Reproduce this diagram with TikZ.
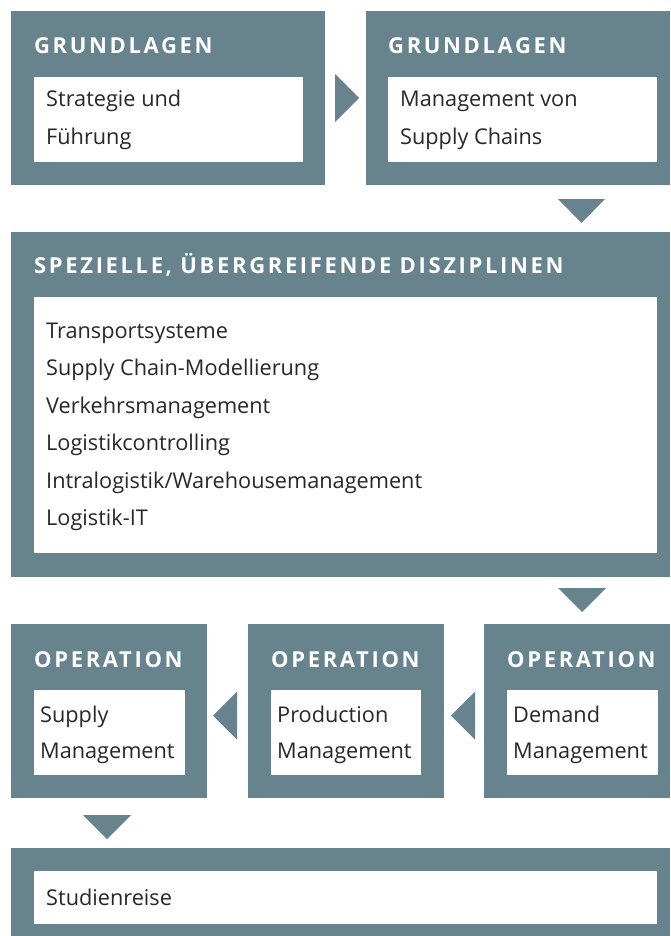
\documentclass[tikz,border=0pt]{standalone}
\usepackage{fontspec}
\setmainfont{Open Sans}
\newfontfamily\titlefont{Open Sans}[LetterSpace=12]
\usetikzlibrary{calc}
\definecolor{slate}{RGB}{102,131,142}
\definecolor{ink}{RGB}{40,40,40}
\tikzset{
  outer/.style={fill=slate, anchor=north west, inner sep=0pt, outer sep=0pt},
  inner/.style={fill=white, anchor=north west, inner sep=0pt, outer sep=0pt},
  ttl/.style={anchor=base west, inner sep=0pt, text=white, font=\titlefont\bfseries\fontsize{22}{26}\selectfont},
  txt/.style={anchor=base west, inner sep=0pt, text=ink, font=\fontsize{21.7}{26}\selectfont},
  tri/.style={fill=slate}
}
\begin{document}
\begin{tikzpicture}[x=1pt,y=-1pt]
\useasboundingbox (0,0) rectangle (670,936);
% top row
\node[outer, minimum width=314pt, minimum height=174pt] (b1) at (11,11) {};
\node[inner, minimum width=269pt, minimum height=85pt] (w1) at (34,77) {};
\node[ttl] (t1) at (34,54) {GRUNDLAGEN};
\node[txt] (s1a) at (46,107) {Strategie und};
\node[txt] (s1b) at (46,145) {Führung};

\node[outer, minimum width=304pt, minimum height=174pt] (b2) at (366,11) {};
\node[inner, minimum width=269pt, minimum height=85pt] (w2) at (388,77) {};
\node[ttl] (t2) at (388,54) {GRUNDLAGEN};
\node[txt] (s2a) at (400,107) {Management von};
\node[txt] (s2b) at (400,145) {Supply Chains};

% big box
\node[outer, minimum width=659pt, minimum height=345pt] (b3) at (11,232) {};
\node[inner, minimum width=623pt, minimum height=256pt] (w3) at (34,297) {};
\node[ttl] (t3) at (34,273) {SPEZIELLE, ÜBERGREIFENDE DISZIPLINEN};
\node[txt] (l1) at (46,338) {Transportsysteme};
\node[txt] (l2) at (46,375.5) {Supply Chain-Modellierung};
\node[txt] (l3) at (46,413) {Verkehrsmanagement};
\node[txt] (l4) at (46,450.5) {Logistikcontrolling};
\node[txt] (l5) at (46,488) {Intralogistik/Warehousemanagement};
\node[txt] (l6) at (46,525.5) {Logistik-IT};

% operation row
\node[outer, minimum width=196pt, minimum height=174pt] (o1) at (11,624) {};
\node[inner, minimum width=151pt, minimum height=85pt] (ow1) at (34,690) {};
\node[ttl] (ot1) at (34,667) {OPERATION};
\node[txt] (o1a) at (40,722) {Supply};
\node[txt] (o1b) at (40,758) {Management};

\node[outer, minimum width=196pt, minimum height=174pt] (o2) at (248,624) {};
\node[inner, minimum width=150pt, minimum height=85pt] (ow2) at (271,690) {};
\node[ttl] (ot2) at (271,667) {OPERATION};
\node[txt] (o2a) at (277,722) {Production};
\node[txt] (o2b) at (277,758) {Management};

\node[outer, minimum width=186pt, minimum height=174pt] (o3) at (484,624) {};
\node[inner, minimum width=151pt, minimum height=85pt] (ow3) at (507,690) {};
\node[ttl] (ot3) at (507,667) {OPERATION};
\node[txt] (o3a) at (513,722) {Demand};
\node[txt] (o3b) at (513,758) {Management};

% bottom box
\node[outer, minimum width=659pt, minimum height=88pt] (b4) at (11,848) {};
\node[inner, minimum width=623pt, minimum height=53pt] (w4) at (34,871) {};
\node[txt] (st) at (46,905) {Studienreise};

% triangle connectors
\fill[tri] ($(b1.east)+(10,-24)$) -- ($(b2.west)+(-7,0)$) -- ($(b1.east)+(10,24)$) -- cycle;
\fill[tri] ($(b2.south west)+(192,14)$) -- ($(b2.south west)+(239,14)$) -- ($(b3.north east)+(-88.5,-9)$) -- cycle;
\fill[tri] ($(b3.south east)+(-112,11)$) -- ($(b3.south east)+(-64,11)$) -- ($(o3.north east)+(-88,-12)$) -- cycle;
\fill[tri] ($(o3.west)+(-9,-19.5)$) -- ($(o3.west)+(-9,28.5)$) -- ($(o2.east)+(7,4.5)$) -- cycle;
\fill[tri] ($(o2.west)+(-11,-19.5)$) -- ($(o2.west)+(-11,28.5)$) -- ($(o1.east)+(6,4.5)$) -- cycle;
\fill[tri] ($(o1.south west)+(72,17)$) -- ($(o1.south west)+(120,17)$) -- ($(b4.north west)+(96,-9)$) -- cycle;
\end{tikzpicture}
\end{document}
